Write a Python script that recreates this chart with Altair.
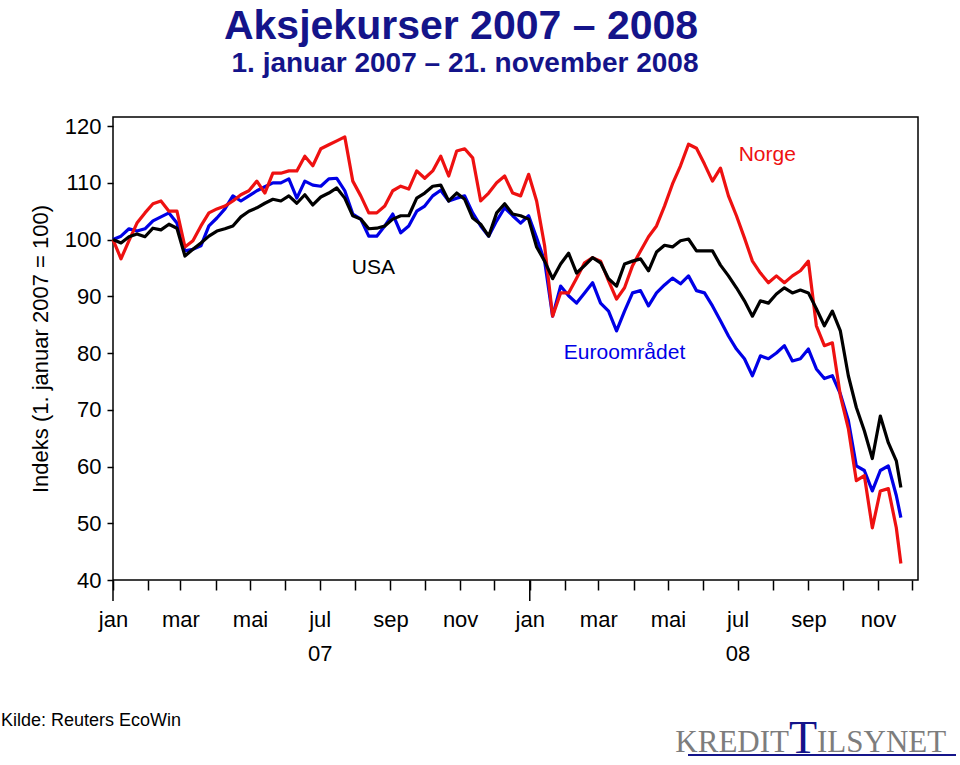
import altair as alt
import pandas as pd

# ---------------- data (weekly readings, index 1 Jan 2007 = 100) ----------------
month_names = ["jan", "feb", "mar", "apr", "mai", "jun", "jul", "aug", "sep", "okt", "nov", "des"]
y_ticks = [40, 50, 60, 70, 80, 90, 100, 110, 120]

series_names = ["Euroområdet", "Norge", "USA"]
series_colors = ["#0000e6", "#ee1111", "#000000"]

norge = [100.0, 96.6, 99.8, 102.9, 104.7, 106.3, 106.8, 105.0, 105.0, 98.7,
         99.8, 102.4, 104.7, 105.4, 105.9, 106.8, 107.9, 108.6, 110.3, 108.2,
         111.7, 111.7, 112.1, 112.1, 114.7, 113.0, 116.0, 116.7, 117.4, 118.1,
         110.3, 107.7, 104.7, 104.7, 105.9, 108.6, 109.4, 108.9, 112.1, 110.8,
         112.1, 114.7, 111.2, 115.6, 116.0, 114.4, 106.8, 108.2, 110.0, 111.2,
         108.2, 107.7, 111.5, 106.8, 98.9, 86.5, 90.6, 90.6, 93.2, 95.9,
         96.8, 96.2, 92.7, 89.5, 91.5, 95.4, 98.0, 100.5, 102.4, 105.9,
         109.8, 113.0, 116.8, 116.1, 113.3, 110.3, 112.6, 107.7, 104.2, 100.3,
         96.2, 94.1, 92.4, 93.6, 92.4, 93.6, 94.5, 96.2, 84.8, 81.3,
         81.8, 72.5, 66.7, 57.5, 58.4, 49.2, 55.7, 56.1, 49.2, 42.9]

euro = [100.0, 100.6, 101.9, 101.5, 101.9, 103.3, 104.0, 104.7, 102.9, 98.0,
        98.3, 98.9, 102.4, 103.8, 105.4, 107.7, 106.8, 107.7, 108.6, 109.3,
        110.0, 110.0, 110.7, 107.3, 110.3, 109.6, 109.4, 110.7, 110.8, 108.6,
        104.5, 103.6, 100.6, 100.6, 102.4, 104.5, 101.2, 102.4, 105.0, 105.9,
        107.7, 108.7, 106.8, 107.3, 107.7, 104.7, 102.4, 100.6, 103.3, 105.6,
        104.2, 102.9, 104.2, 100.3, 96.2, 86.5, 91.8, 90.1, 88.8, 90.6,
        92.4, 88.8, 87.4, 83.9, 87.4, 90.6, 91.0, 88.3, 90.6, 92.0,
        93.2, 92.2, 93.6, 91.0, 90.6, 88.3, 85.7, 83.0, 80.7, 79.0,
        76.0, 79.5, 79.0, 80.0, 81.3, 78.6, 79.0, 80.7, 77.2, 75.5,
        76.0, 72.8, 68.1, 60.1, 59.3, 55.7, 59.3, 60.1, 54.9, 51.0]

usa = [100.0, 99.4, 100.5, 101.0, 100.5, 102.0, 101.7, 102.7, 102.0, 97.1,
       98.3, 99.4, 100.6, 101.5, 101.9, 102.4, 104.0, 105.0, 105.6, 106.4,
       107.1, 106.8, 107.7, 106.4, 107.9, 106.1, 107.5, 108.2, 109.1, 107.3,
       104.2, 103.6, 101.9, 102.0, 102.4, 103.6, 104.2, 104.2, 107.3, 108.2,
       109.4, 109.6, 106.8, 108.2, 107.1, 103.8, 102.7, 100.6, 104.7, 106.3,
       104.5, 104.2, 103.6, 98.7, 96.2, 93.1, 95.7, 97.6, 94.1, 95.4,
       96.8, 95.9, 93.1, 91.8, 95.7, 96.2, 96.6, 94.5, 97.8, 99.0,
       98.7, 99.8, 100.1, 98.0, 98.0, 98.0, 95.5, 93.6, 91.5, 89.2,
       86.5, 89.2, 88.8, 90.4, 91.5, 90.6, 91.1, 90.6, 87.8, 84.8,
       87.4, 83.9, 76.0, 70.4, 66.3, 61.4, 68.9, 64.2, 61.0, 56.3]

dates = [d.strftime("%Y-%m-%dT00:00:00") for d in pd.date_range("2007-01-01", periods=99, freq="7D")]
dates.append("2008-11-21T00:00:00")

rows = []
for name, vals in zip(series_names, [euro, norge, usa]):
    for d, v in zip(dates, vals):
        rows.append({"serie": name, "dato": d, "indeks": v})
df = pd.DataFrame(rows)

label_df = pd.DataFrame({
    "serie": ["Norge", "USA", "Euroområdet"],
    "dato": ["2008-07-27T00:00:00", "2007-08-17T00:00:00", "2008-03-24T00:00:00"],
    "indeks": [114.9, 95.0, 80.0],
})

jan_df = pd.DataFrame({"dato": ["2007-01-01T00:00:00", "2008-01-01T00:00:00"]})

# ---------------- layout ----------------
W, H = 805, 463
LEFT, TOP = 113, 117
FONT = "Liberation Sans"
NAVY = "#14148a"

x_scale = alt.Scale(domain=[alt.DateTime(year=2007, month=1, date=1),
                            alt.DateTime(year=2008, month=12, date=6)])
y_scale = alt.Scale(domain=[40, 121.6], nice=False, zero=False)

month_ticks = [alt.DateTime(year=y, month=m, date=1) for y in (2007, 2008) for m in range(1, 13)]
js_months = "[" + ",".join("'%s'" % m for m in month_names) + "]"
label_expr = ("month(datum.value) == 6 ? ['jul', timeFormat(datum.value, '%y')] : "
              "(month(datum.value) % 2 == 0 ? " + js_months + "[month(datum.value)] : '')")

X = alt.X("dato:T", scale=x_scale,
          axis=alt.Axis(values=month_ticks, labelExpr=label_expr, tickSize=10, tickWidth=1.5,
                        tickColor="black", labelPadding=19, labelFontSize=22, labelFont=FONT,
                        labelColor="black", labelAngle=0, labelAlign="center", labelBaseline="top",
                        labelLineHeight=34, labelOverlap=False, labelFlush=False, domain=False,
                        grid=False, title=None))
Y = alt.Y("indeks:Q", scale=y_scale,
          axis=alt.Axis(values=y_ticks, tickSize=6, tickWidth=1.5, tickColor="black",
                        labelPadding=6, labelFontSize=22, labelFont=FONT, labelColor="black",
                        domain=False, grid=False, title="Indeks (1. januar 2007 = 100)",
                        titleFontSize=22, titleFont=FONT, titleFontWeight="normal",
                        titleColor="black", titlePadding=12))
C = alt.Color("serie:N", scale=alt.Scale(domain=series_names, range=series_colors), legend=None)

layers = []
for name in series_names:
    layers.append(
        alt.Chart(df).transform_filter(alt.datum.serie == name)
        .mark_line(strokeWidth=3.2, strokeJoin="round")
        .encode(x=X, y=Y, color=C)
    )

jan_ticks = alt.Chart(jan_df).mark_rule(color="black", strokeWidth=1.5).encode(
    x=X, y=alt.value(H), y2=alt.value(H + 21))

labels = alt.Chart(label_df).mark_text(fontSize=21, font=FONT, align="center", baseline="middle").encode(
    x=X, y=Y, text="serie:N", color=C)


def deco(text, px, py, **kw):
    return alt.Chart(pd.DataFrame({"t": [text]})).mark_text(**kw).encode(
        x=alt.value(px - LEFT), y=alt.value(py - TOP), text="t:N")


title = deco("Aksjekurser 2007 – 2008", 461, 39, fontSize=41, fontWeight="bold", font=FONT,
             color=NAVY, align="center", baseline="alphabetic")
subtitle = deco("1. januar 2007 – 21. november 2008", 465, 72, fontSize=28, fontWeight="bold",
                font=FONT, color=NAVY, align="center", baseline="alphabetic")
source = deco("Kilde: Reuters EcoWin", 1, 726, fontSize=18, font=FONT, color="black",
              align="left", baseline="alphabetic")

underline = alt.Chart(pd.DataFrame({"a": [0]})).mark_rule(color=NAVY, strokeWidth=2).encode(
    x=alt.value(688 - LEFT), x2=alt.value(956 - LEFT), y=alt.value(755 - TOP))
logo1 = deco("KREDIT", 789, 752, fontSize=31, font="Liberation Serif", color="#7d7d7d",
             align="right", baseline="alphabetic")
logo2 = deco("T", 803, 753, fontSize=46, font="Liberation Serif", color=NAVY,
             align="center", baseline="alphabetic")
logo3 = deco("ILSYNET", 817, 752, fontSize=31, font="Liberation Serif", color="#7d7d7d",
             align="left", baseline="alphabetic")

chart = alt.layer(*layers, jan_ticks, labels, title, subtitle, source,
                  underline, logo1, logo2, logo3).properties(
    width=W, height=H,
    padding={"left": LEFT, "top": TOP, "right": 960 - LEFT - W, "bottom": 765 - TOP - H},
    autosize=alt.AutoSizeParams(type="none"),
    background="white",
).configure_view(stroke="black", strokeWidth=1.5)

chart.save("out.html", embed_options={"renderer": "svg", "actions": False})
